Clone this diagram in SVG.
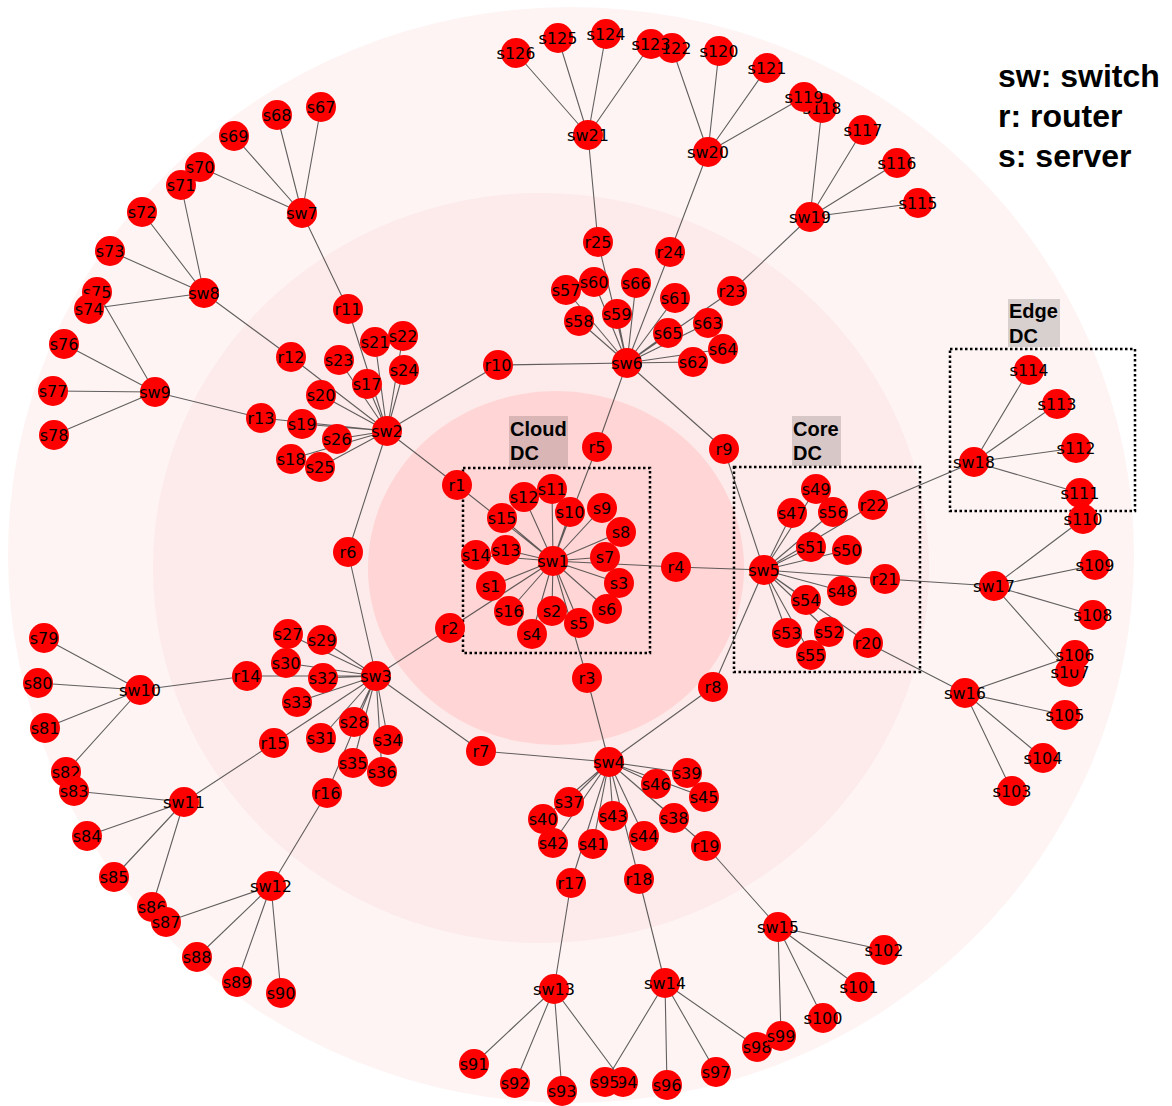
<svg xmlns="http://www.w3.org/2000/svg" width="1172" height="1106" viewBox="0 0 1172 1106">
<style>
.e{stroke:#3a3a3a;stroke-opacity:.8;stroke-width:1.1}
.n circle{fill:#ff0000}
.n text{font-family:"DejaVu Sans",sans-serif;font-size:16px;fill:#000;text-anchor:middle;dominant-baseline:central}
.box{fill:none;stroke:#000;stroke-width:2.5;stroke-dasharray:2.5 2.5}
.lbg{fill:#000;fill-opacity:.15}
.lt{font-family:"Liberation Sans",Arial,sans-serif;font-weight:bold;font-size:20px;fill:#000}
.leg{font-family:"Liberation Sans",Arial,sans-serif;font-weight:bold;font-size:32px;fill:#000}
</style>
<rect width="1172" height="1106" fill="#fff"/>
<g id="background">
<ellipse cx="571" cy="555" rx="563" ry="548" fill="#fef4f4"/>
<ellipse cx="541" cy="568" rx="388" ry="375" fill="#fdeaea"/>
<ellipse cx="556" cy="568" rx="188" ry="177" fill="#ffd5d5"/>
</g>
<g id="regions">
<rect class="box" x="463" y="468" width="187" height="185"/>
<rect class="box" x="734" y="467" width="186" height="205"/>
<rect class="box" x="950" y="349" width="185" height="162"/>
<rect class="lbg" x="509" y="416" width="59" height="52"/>
<text class="lt" x="510" y="436">Cloud</text><text class="lt" x="510" y="460">DC</text>
<rect class="lbg" x="792" y="416" width="49" height="50"/>
<text class="lt" x="793" y="436">Core</text><text class="lt" x="793" y="460">DC</text>
<rect class="lbg" x="1008" y="299" width="52" height="48"/>
<text class="lt" x="1009" y="318">Edge</text><text class="lt" x="1009" y="343">DC</text>
</g>
<g id="legend">
<text class="leg" x="998" y="87">sw: switch</text>
<text class="leg" x="998" y="127">r: router</text>
<text class="leg" x="998" y="167">s: server</text>
</g>
<g id="connectors">
<path class="e" fill="none" d="M553 561L491 586M553 561L552 611M553 561L619 583M553 561L532 634M553 561L579 623M553 561L607 609M553 561L605 557M553 561L621 532M553 561L602 508M553 561L570 512M553 561L552 489M553 561L524 497M553 561L506 550M553 561L476 555M553 561L502 518M553 561L509 611M553 561L457 485M553 561L450 628M553 561L587 678M553 561L676 567M553 561L597 447"/>
<path class="e" fill="none" d="M387 431L367 384M387 431L291 459M387 431L302 424M387 431L321 395M387 431L375 342M387 431L403 336M387 431L339 360M387 431L404 370M387 431L320 467M387 431L337 439M387 431L457 485M387 431L348 552M387 431L498 365M387 431L348 309M387 431L291 357M387 431L261 418"/>
<path class="e" fill="none" d="M376 676L288 634M376 676L354 722M376 676L322 640M376 676L286 663M376 676L321 738M376 676L323 678M376 676L297 702M376 676L388 740M376 676L353 763M376 676L382 772M376 676L450 628M376 676L348 552M376 676L481 751M376 676L247 676M376 676L274 743M376 676L327 793"/>
<path class="e" fill="none" d="M609 762L569 802M609 762L674 818M609 762L687 773M609 762L543 819M609 762L593 844M609 762L553 843M609 762L613 816M609 762L644 836M609 762L704 797M609 762L656 784M609 762L587 678M609 762L481 751M609 762L713 687M609 762L571 883M609 762L639 879M609 762L706 846"/>
<path class="e" fill="none" d="M764 570L792 513M764 570L842 591M764 570L816 489M764 570L847 550M764 570L811 547M764 570L829 632M764 570L787 633M764 570L806 600M764 570L811 655M764 570L833 512M764 570L676 567M764 570L713 687M764 570L724 449M764 570L868 643M764 570L885 579M764 570L873 505"/>
<path class="e" fill="none" d="M627 363L566 290M627 363L579 321M627 363L617 314M627 363L594 282M627 363L675 298M627 363L693 362M627 363L708 323M627 363L723 349M627 363L668 333M627 363L636 283M627 363L597 447M627 363L724 449M627 363L498 365M627 363L732 291M627 363L670 252M627 363L598 242"/>
<path class="e" fill="none" d="M302 213L321 107M302 213L277 115M302 213L234 136M302 213L200 167M302 213L348 309"/>
<path class="e" fill="none" d="M204 293L181 185M204 293L142 212M204 293L110 251M204 293L89 309M204 293L291 357"/>
<path class="e" fill="none" d="M155 392L97 292M155 392L64 344M155 392L53 391M155 392L54 435M155 392L261 418"/>
<path class="e" fill="none" d="M140 690L44 638M140 690L38 683M140 690L45 728M140 690L66 772M140 690L247 676"/>
<path class="e" fill="none" d="M184 802L74 791M184 802L87 836M184 802L114 877M184 802L152 907M184 802L274 743"/>
<path class="e" fill="none" d="M271 886L166 922M271 886L197 957M271 886L237 982M271 886L281 993M271 886L327 793"/>
<path class="e" fill="none" d="M554 989L474 1064M554 989L515 1083M554 989L562 1091M554 989L623 1082M554 989L571 883"/>
<path class="e" fill="none" d="M665 983L605 1082M665 983L667 1085M665 983L716 1072M665 983L757 1047M665 983L639 879"/>
<path class="e" fill="none" d="M778 927L781 1036M778 927L823 1018M778 927L859 987M778 927L884 950M778 927L706 846"/>
<path class="e" fill="none" d="M965 693L1012 791M965 693L1043 758M965 693L1065 715M965 693L1075 655M965 693L868 643"/>
<path class="e" fill="none" d="M994 586L1070 672M994 586L1093 615M994 586L1095 565M994 586L1083 519M994 586L885 579"/>
<path class="e" fill="none" d="M974 462L1080 493M974 462L1076 448M974 462L1057 404M974 462L1029 370M974 462L873 505"/>
<path class="e" fill="none" d="M810 217L918 203M810 217L897 163M810 217L863 130M810 217L822 108M810 217L732 291"/>
<path class="e" fill="none" d="M708 152L804 97M708 152L719 51M708 152L767 68M708 152L672 48M708 152L670 252"/>
<path class="e" fill="none" d="M588 135L651 44M588 135L606 34M588 135L558 38M588 135L516 53M588 135L598 242"/>
</g>
<g id="nodes">
<g id="sw1" class="n"><circle cx="553" cy="561" r="15"/><text x="553" y="561">sw1</text></g>
<g id="sw2" class="n"><circle cx="387" cy="431" r="15"/><text x="387" y="431">sw2</text></g>
<g id="sw3" class="n"><circle cx="376" cy="676" r="15"/><text x="376" y="676">sw3</text></g>
<g id="sw4" class="n"><circle cx="609" cy="762" r="15"/><text x="609" y="762">sw4</text></g>
<g id="sw5" class="n"><circle cx="764" cy="570" r="15"/><text x="764" y="570">sw5</text></g>
<g id="sw6" class="n"><circle cx="627" cy="363" r="15"/><text x="627" y="363">sw6</text></g>
<g id="sw7" class="n"><circle cx="302" cy="213" r="15"/><text x="302" y="213">sw7</text></g>
<g id="sw8" class="n"><circle cx="204" cy="293" r="15"/><text x="204" y="293">sw8</text></g>
<g id="sw9" class="n"><circle cx="155" cy="392" r="15"/><text x="155" y="392">sw9</text></g>
<g id="sw10" class="n"><circle cx="140" cy="690" r="15"/><text x="140" y="690">sw10</text></g>
<g id="sw11" class="n"><circle cx="184" cy="802" r="15"/><text x="184" y="802">sw11</text></g>
<g id="sw12" class="n"><circle cx="271" cy="886" r="15"/><text x="271" y="886">sw12</text></g>
<g id="sw13" class="n"><circle cx="554" cy="989" r="15"/><text x="554" y="989">sw13</text></g>
<g id="sw14" class="n"><circle cx="665" cy="983" r="15"/><text x="665" y="983">sw14</text></g>
<g id="sw15" class="n"><circle cx="778" cy="927" r="15"/><text x="778" y="927">sw15</text></g>
<g id="sw16" class="n"><circle cx="965" cy="693" r="15"/><text x="965" y="693">sw16</text></g>
<g id="sw17" class="n"><circle cx="994" cy="586" r="15"/><text x="994" y="586">sw17</text></g>
<g id="sw18" class="n"><circle cx="974" cy="462" r="15"/><text x="974" y="462">sw18</text></g>
<g id="sw19" class="n"><circle cx="810" cy="217" r="15"/><text x="810" y="217">sw19</text></g>
<g id="sw20" class="n"><circle cx="708" cy="152" r="15"/><text x="708" y="152">sw20</text></g>
<g id="sw21" class="n"><circle cx="588" cy="135" r="15"/><text x="588" y="135">sw21</text></g>
<g id="r1" class="n"><circle cx="457" cy="485" r="15"/><text x="457" y="485">r1</text></g>
<g id="r2" class="n"><circle cx="450" cy="628" r="15"/><text x="450" y="628">r2</text></g>
<g id="r3" class="n"><circle cx="587" cy="678" r="15"/><text x="587" y="678">r3</text></g>
<g id="r4" class="n"><circle cx="676" cy="567" r="15"/><text x="676" y="567">r4</text></g>
<g id="r5" class="n"><circle cx="597" cy="447" r="15"/><text x="597" y="447">r5</text></g>
<g id="r6" class="n"><circle cx="348" cy="552" r="15"/><text x="348" y="552">r6</text></g>
<g id="r7" class="n"><circle cx="481" cy="751" r="15"/><text x="481" y="751">r7</text></g>
<g id="r8" class="n"><circle cx="713" cy="687" r="15"/><text x="713" y="687">r8</text></g>
<g id="r9" class="n"><circle cx="724" cy="449" r="15"/><text x="724" y="449">r9</text></g>
<g id="r10" class="n"><circle cx="498" cy="365" r="15"/><text x="498" y="365">r10</text></g>
<g id="r11" class="n"><circle cx="348" cy="309" r="15"/><text x="348" y="309">r11</text></g>
<g id="r12" class="n"><circle cx="291" cy="357" r="15"/><text x="291" y="357">r12</text></g>
<g id="r13" class="n"><circle cx="261" cy="418" r="15"/><text x="261" y="418">r13</text></g>
<g id="r14" class="n"><circle cx="247" cy="676" r="15"/><text x="247" y="676">r14</text></g>
<g id="r15" class="n"><circle cx="274" cy="743" r="15"/><text x="274" y="743">r15</text></g>
<g id="r16" class="n"><circle cx="327" cy="793" r="15"/><text x="327" y="793">r16</text></g>
<g id="r17" class="n"><circle cx="571" cy="883" r="15"/><text x="571" y="883">r17</text></g>
<g id="r18" class="n"><circle cx="639" cy="879" r="15"/><text x="639" y="879">r18</text></g>
<g id="r19" class="n"><circle cx="706" cy="846" r="15"/><text x="706" y="846">r19</text></g>
<g id="r20" class="n"><circle cx="868" cy="643" r="15"/><text x="868" y="643">r20</text></g>
<g id="r21" class="n"><circle cx="885" cy="579" r="15"/><text x="885" y="579">r21</text></g>
<g id="r22" class="n"><circle cx="873" cy="505" r="15"/><text x="873" y="505">r22</text></g>
<g id="r23" class="n"><circle cx="732" cy="291" r="15"/><text x="732" y="291">r23</text></g>
<g id="r24" class="n"><circle cx="670" cy="252" r="15"/><text x="670" y="252">r24</text></g>
<g id="r25" class="n"><circle cx="598" cy="242" r="15"/><text x="598" y="242">r25</text></g>
<g id="s1" class="n"><circle cx="491" cy="586" r="15"/><text x="491" y="586">s1</text></g>
<g id="s2" class="n"><circle cx="552" cy="611" r="15"/><text x="552" y="611">s2</text></g>
<g id="s3" class="n"><circle cx="619" cy="583" r="15"/><text x="619" y="583">s3</text></g>
<g id="s4" class="n"><circle cx="532" cy="634" r="15"/><text x="532" y="634">s4</text></g>
<g id="s5" class="n"><circle cx="579" cy="623" r="15"/><text x="579" y="623">s5</text></g>
<g id="s6" class="n"><circle cx="607" cy="609" r="15"/><text x="607" y="609">s6</text></g>
<g id="s7" class="n"><circle cx="605" cy="557" r="15"/><text x="605" y="557">s7</text></g>
<g id="s8" class="n"><circle cx="621" cy="532" r="15"/><text x="621" y="532">s8</text></g>
<g id="s9" class="n"><circle cx="602" cy="508" r="15"/><text x="602" y="508">s9</text></g>
<g id="s10" class="n"><circle cx="570" cy="512" r="15"/><text x="570" y="512">s10</text></g>
<g id="s11" class="n"><circle cx="552" cy="489" r="15"/><text x="552" y="489">s11</text></g>
<g id="s12" class="n"><circle cx="524" cy="497" r="15"/><text x="524" y="497">s12</text></g>
<g id="s13" class="n"><circle cx="506" cy="550" r="15"/><text x="506" y="550">s13</text></g>
<g id="s14" class="n"><circle cx="476" cy="555" r="15"/><text x="476" y="555">s14</text></g>
<g id="s15" class="n"><circle cx="502" cy="518" r="15"/><text x="502" y="518">s15</text></g>
<g id="s16" class="n"><circle cx="509" cy="611" r="15"/><text x="509" y="611">s16</text></g>
<g id="s17" class="n"><circle cx="367" cy="384" r="15"/><text x="367" y="384">s17</text></g>
<g id="s18" class="n"><circle cx="291" cy="459" r="15"/><text x="291" y="459">s18</text></g>
<g id="s19" class="n"><circle cx="302" cy="424" r="15"/><text x="302" y="424">s19</text></g>
<g id="s20" class="n"><circle cx="321" cy="395" r="15"/><text x="321" y="395">s20</text></g>
<g id="s21" class="n"><circle cx="375" cy="342" r="15"/><text x="375" y="342">s21</text></g>
<g id="s22" class="n"><circle cx="403" cy="336" r="15"/><text x="403" y="336">s22</text></g>
<g id="s23" class="n"><circle cx="339" cy="360" r="15"/><text x="339" y="360">s23</text></g>
<g id="s24" class="n"><circle cx="404" cy="370" r="15"/><text x="404" y="370">s24</text></g>
<g id="s25" class="n"><circle cx="320" cy="467" r="15"/><text x="320" y="467">s25</text></g>
<g id="s26" class="n"><circle cx="337" cy="439" r="15"/><text x="337" y="439">s26</text></g>
<g id="s27" class="n"><circle cx="288" cy="634" r="15"/><text x="288" y="634">s27</text></g>
<g id="s28" class="n"><circle cx="354" cy="722" r="15"/><text x="354" y="722">s28</text></g>
<g id="s29" class="n"><circle cx="322" cy="640" r="15"/><text x="322" y="640">s29</text></g>
<g id="s30" class="n"><circle cx="286" cy="663" r="15"/><text x="286" y="663">s30</text></g>
<g id="s31" class="n"><circle cx="321" cy="738" r="15"/><text x="321" y="738">s31</text></g>
<g id="s32" class="n"><circle cx="323" cy="678" r="15"/><text x="323" y="678">s32</text></g>
<g id="s33" class="n"><circle cx="297" cy="702" r="15"/><text x="297" y="702">s33</text></g>
<g id="s34" class="n"><circle cx="388" cy="740" r="15"/><text x="388" y="740">s34</text></g>
<g id="s35" class="n"><circle cx="353" cy="763" r="15"/><text x="353" y="763">s35</text></g>
<g id="s36" class="n"><circle cx="382" cy="772" r="15"/><text x="382" y="772">s36</text></g>
<g id="s37" class="n"><circle cx="569" cy="802" r="15"/><text x="569" y="802">s37</text></g>
<g id="s38" class="n"><circle cx="674" cy="818" r="15"/><text x="674" y="818">s38</text></g>
<g id="s39" class="n"><circle cx="687" cy="773" r="15"/><text x="687" y="773">s39</text></g>
<g id="s40" class="n"><circle cx="543" cy="819" r="15"/><text x="543" y="819">s40</text></g>
<g id="s41" class="n"><circle cx="593" cy="844" r="15"/><text x="593" y="844">s41</text></g>
<g id="s42" class="n"><circle cx="553" cy="843" r="15"/><text x="553" y="843">s42</text></g>
<g id="s43" class="n"><circle cx="613" cy="816" r="15"/><text x="613" y="816">s43</text></g>
<g id="s44" class="n"><circle cx="644" cy="836" r="15"/><text x="644" y="836">s44</text></g>
<g id="s45" class="n"><circle cx="704" cy="797" r="15"/><text x="704" y="797">s45</text></g>
<g id="s46" class="n"><circle cx="656" cy="784" r="15"/><text x="656" y="784">s46</text></g>
<g id="s47" class="n"><circle cx="792" cy="513" r="15"/><text x="792" y="513">s47</text></g>
<g id="s48" class="n"><circle cx="842" cy="591" r="15"/><text x="842" y="591">s48</text></g>
<g id="s49" class="n"><circle cx="816" cy="489" r="15"/><text x="816" y="489">s49</text></g>
<g id="s50" class="n"><circle cx="847" cy="550" r="15"/><text x="847" y="550">s50</text></g>
<g id="s51" class="n"><circle cx="811" cy="547" r="15"/><text x="811" y="547">s51</text></g>
<g id="s52" class="n"><circle cx="829" cy="632" r="15"/><text x="829" y="632">s52</text></g>
<g id="s53" class="n"><circle cx="787" cy="633" r="15"/><text x="787" y="633">s53</text></g>
<g id="s54" class="n"><circle cx="806" cy="600" r="15"/><text x="806" y="600">s54</text></g>
<g id="s55" class="n"><circle cx="811" cy="655" r="15"/><text x="811" y="655">s55</text></g>
<g id="s56" class="n"><circle cx="833" cy="512" r="15"/><text x="833" y="512">s56</text></g>
<g id="s57" class="n"><circle cx="566" cy="290" r="15"/><text x="566" y="290">s57</text></g>
<g id="s58" class="n"><circle cx="579" cy="321" r="15"/><text x="579" y="321">s58</text></g>
<g id="s60" class="n"><circle cx="594" cy="282" r="15"/><text x="594" y="282">s60</text></g>
<g id="s59" class="n"><circle cx="617" cy="314" r="15"/><text x="617" y="314">s59</text></g>
<g id="s61" class="n"><circle cx="675" cy="298" r="15"/><text x="675" y="298">s61</text></g>
<g id="s62" class="n"><circle cx="693" cy="362" r="15"/><text x="693" y="362">s62</text></g>
<g id="s63" class="n"><circle cx="708" cy="323" r="15"/><text x="708" y="323">s63</text></g>
<g id="s64" class="n"><circle cx="723" cy="349" r="15"/><text x="723" y="349">s64</text></g>
<g id="s65" class="n"><circle cx="668" cy="333" r="15"/><text x="668" y="333">s65</text></g>
<g id="s66" class="n"><circle cx="636" cy="283" r="15"/><text x="636" y="283">s66</text></g>
<g id="s67" class="n"><circle cx="321" cy="107" r="15"/><text x="321" y="107">s67</text></g>
<g id="s68" class="n"><circle cx="277" cy="115" r="15"/><text x="277" y="115">s68</text></g>
<g id="s69" class="n"><circle cx="234" cy="136" r="15"/><text x="234" y="136">s69</text></g>
<g id="s70" class="n"><circle cx="200" cy="167" r="15"/><text x="200" y="167">s70</text></g>
<g id="s71" class="n"><circle cx="181" cy="185" r="15"/><text x="181" y="185">s71</text></g>
<g id="s72" class="n"><circle cx="142" cy="212" r="15"/><text x="142" y="212">s72</text></g>
<g id="s73" class="n"><circle cx="110" cy="251" r="15"/><text x="110" y="251">s73</text></g>
<g id="s75" class="n"><circle cx="97" cy="292" r="15"/><text x="97" y="292">s75</text></g>
<g id="s74" class="n"><circle cx="89" cy="309" r="15"/><text x="89" y="309">s74</text></g>
<g id="s76" class="n"><circle cx="64" cy="344" r="15"/><text x="64" y="344">s76</text></g>
<g id="s77" class="n"><circle cx="53" cy="391" r="15"/><text x="53" y="391">s77</text></g>
<g id="s78" class="n"><circle cx="54" cy="435" r="15"/><text x="54" y="435">s78</text></g>
<g id="s79" class="n"><circle cx="44" cy="638" r="15"/><text x="44" y="638">s79</text></g>
<g id="s80" class="n"><circle cx="38" cy="683" r="15"/><text x="38" y="683">s80</text></g>
<g id="s81" class="n"><circle cx="45" cy="728" r="15"/><text x="45" y="728">s81</text></g>
<g id="s82" class="n"><circle cx="66" cy="772" r="15"/><text x="66" y="772">s82</text></g>
<g id="s83" class="n"><circle cx="74" cy="791" r="15"/><text x="74" y="791">s83</text></g>
<g id="s84" class="n"><circle cx="87" cy="836" r="15"/><text x="87" y="836">s84</text></g>
<g id="s85" class="n"><circle cx="114" cy="877" r="15"/><text x="114" y="877">s85</text></g>
<g id="s86" class="n"><circle cx="152" cy="907" r="15"/><text x="152" y="907">s86</text></g>
<g id="s87" class="n"><circle cx="166" cy="922" r="15"/><text x="166" y="922">s87</text></g>
<g id="s88" class="n"><circle cx="197" cy="957" r="15"/><text x="197" y="957">s88</text></g>
<g id="s89" class="n"><circle cx="237" cy="982" r="15"/><text x="237" y="982">s89</text></g>
<g id="s90" class="n"><circle cx="281" cy="993" r="15"/><text x="281" y="993">s90</text></g>
<g id="s91" class="n"><circle cx="474" cy="1064" r="15"/><text x="474" y="1064">s91</text></g>
<g id="s92" class="n"><circle cx="515" cy="1083" r="15"/><text x="515" y="1083">s92</text></g>
<g id="s93" class="n"><circle cx="562" cy="1091" r="15"/><text x="562" y="1091">s93</text></g>
<g id="s94" class="n"><circle cx="623" cy="1082" r="15"/><text x="623" y="1082">s94</text></g>
<g id="s95" class="n"><circle cx="605" cy="1082" r="15"/><text x="605" y="1082">s95</text></g>
<g id="s96" class="n"><circle cx="667" cy="1085" r="15"/><text x="667" y="1085">s96</text></g>
<g id="s97" class="n"><circle cx="716" cy="1072" r="15"/><text x="716" y="1072">s97</text></g>
<g id="s98" class="n"><circle cx="757" cy="1047" r="15"/><text x="757" y="1047">s98</text></g>
<g id="s99" class="n"><circle cx="781" cy="1036" r="15"/><text x="781" y="1036">s99</text></g>
<g id="s100" class="n"><circle cx="823" cy="1018" r="15"/><text x="823" y="1018">s100</text></g>
<g id="s101" class="n"><circle cx="859" cy="987" r="15"/><text x="859" y="987">s101</text></g>
<g id="s102" class="n"><circle cx="884" cy="950" r="15"/><text x="884" y="950">s102</text></g>
<g id="s103" class="n"><circle cx="1012" cy="791" r="15"/><text x="1012" y="791">s103</text></g>
<g id="s104" class="n"><circle cx="1043" cy="758" r="15"/><text x="1043" y="758">s104</text></g>
<g id="s105" class="n"><circle cx="1065" cy="715" r="15"/><text x="1065" y="715">s105</text></g>
<g id="s107" class="n"><circle cx="1070" cy="672" r="15"/><text x="1070" y="672">s107</text></g>
<g id="s106" class="n"><circle cx="1075" cy="655" r="15"/><text x="1075" y="655">s106</text></g>
<g id="s108" class="n"><circle cx="1093" cy="615" r="15"/><text x="1093" y="615">s108</text></g>
<g id="s109" class="n"><circle cx="1095" cy="565" r="15"/><text x="1095" y="565">s109</text></g>
<g id="s110" class="n"><circle cx="1083" cy="519" r="15"/><text x="1083" y="519">s110</text></g>
<g id="s111" class="n"><circle cx="1080" cy="493" r="15"/><text x="1080" y="493">s111</text></g>
<g id="s112" class="n"><circle cx="1076" cy="448" r="15"/><text x="1076" y="448">s112</text></g>
<g id="s113" class="n"><circle cx="1057" cy="404" r="15"/><text x="1057" y="404">s113</text></g>
<g id="s114" class="n"><circle cx="1029" cy="370" r="15"/><text x="1029" y="370">s114</text></g>
<g id="s115" class="n"><circle cx="918" cy="203" r="15"/><text x="918" y="203">s115</text></g>
<g id="s116" class="n"><circle cx="897" cy="163" r="15"/><text x="897" y="163">s116</text></g>
<g id="s117" class="n"><circle cx="863" cy="130" r="15"/><text x="863" y="130">s117</text></g>
<g id="s118" class="n"><circle cx="822" cy="108" r="15"/><text x="822" y="108">s118</text></g>
<g id="s119" class="n"><circle cx="804" cy="97" r="15"/><text x="804" y="97">s119</text></g>
<g id="s120" class="n"><circle cx="719" cy="51" r="15"/><text x="719" y="51">s120</text></g>
<g id="s121" class="n"><circle cx="767" cy="68" r="15"/><text x="767" y="68">s121</text></g>
<g id="s122" class="n"><circle cx="672" cy="48" r="15"/><text x="672" y="48">s122</text></g>
<g id="s123" class="n"><circle cx="651" cy="44" r="15"/><text x="651" y="44">s123</text></g>
<g id="s124" class="n"><circle cx="606" cy="34" r="15"/><text x="606" y="34">s124</text></g>
<g id="s125" class="n"><circle cx="558" cy="38" r="15"/><text x="558" y="38">s125</text></g>
<g id="s126" class="n"><circle cx="516" cy="53" r="15"/><text x="516" y="53">s126</text></g>
</g>
</svg>
